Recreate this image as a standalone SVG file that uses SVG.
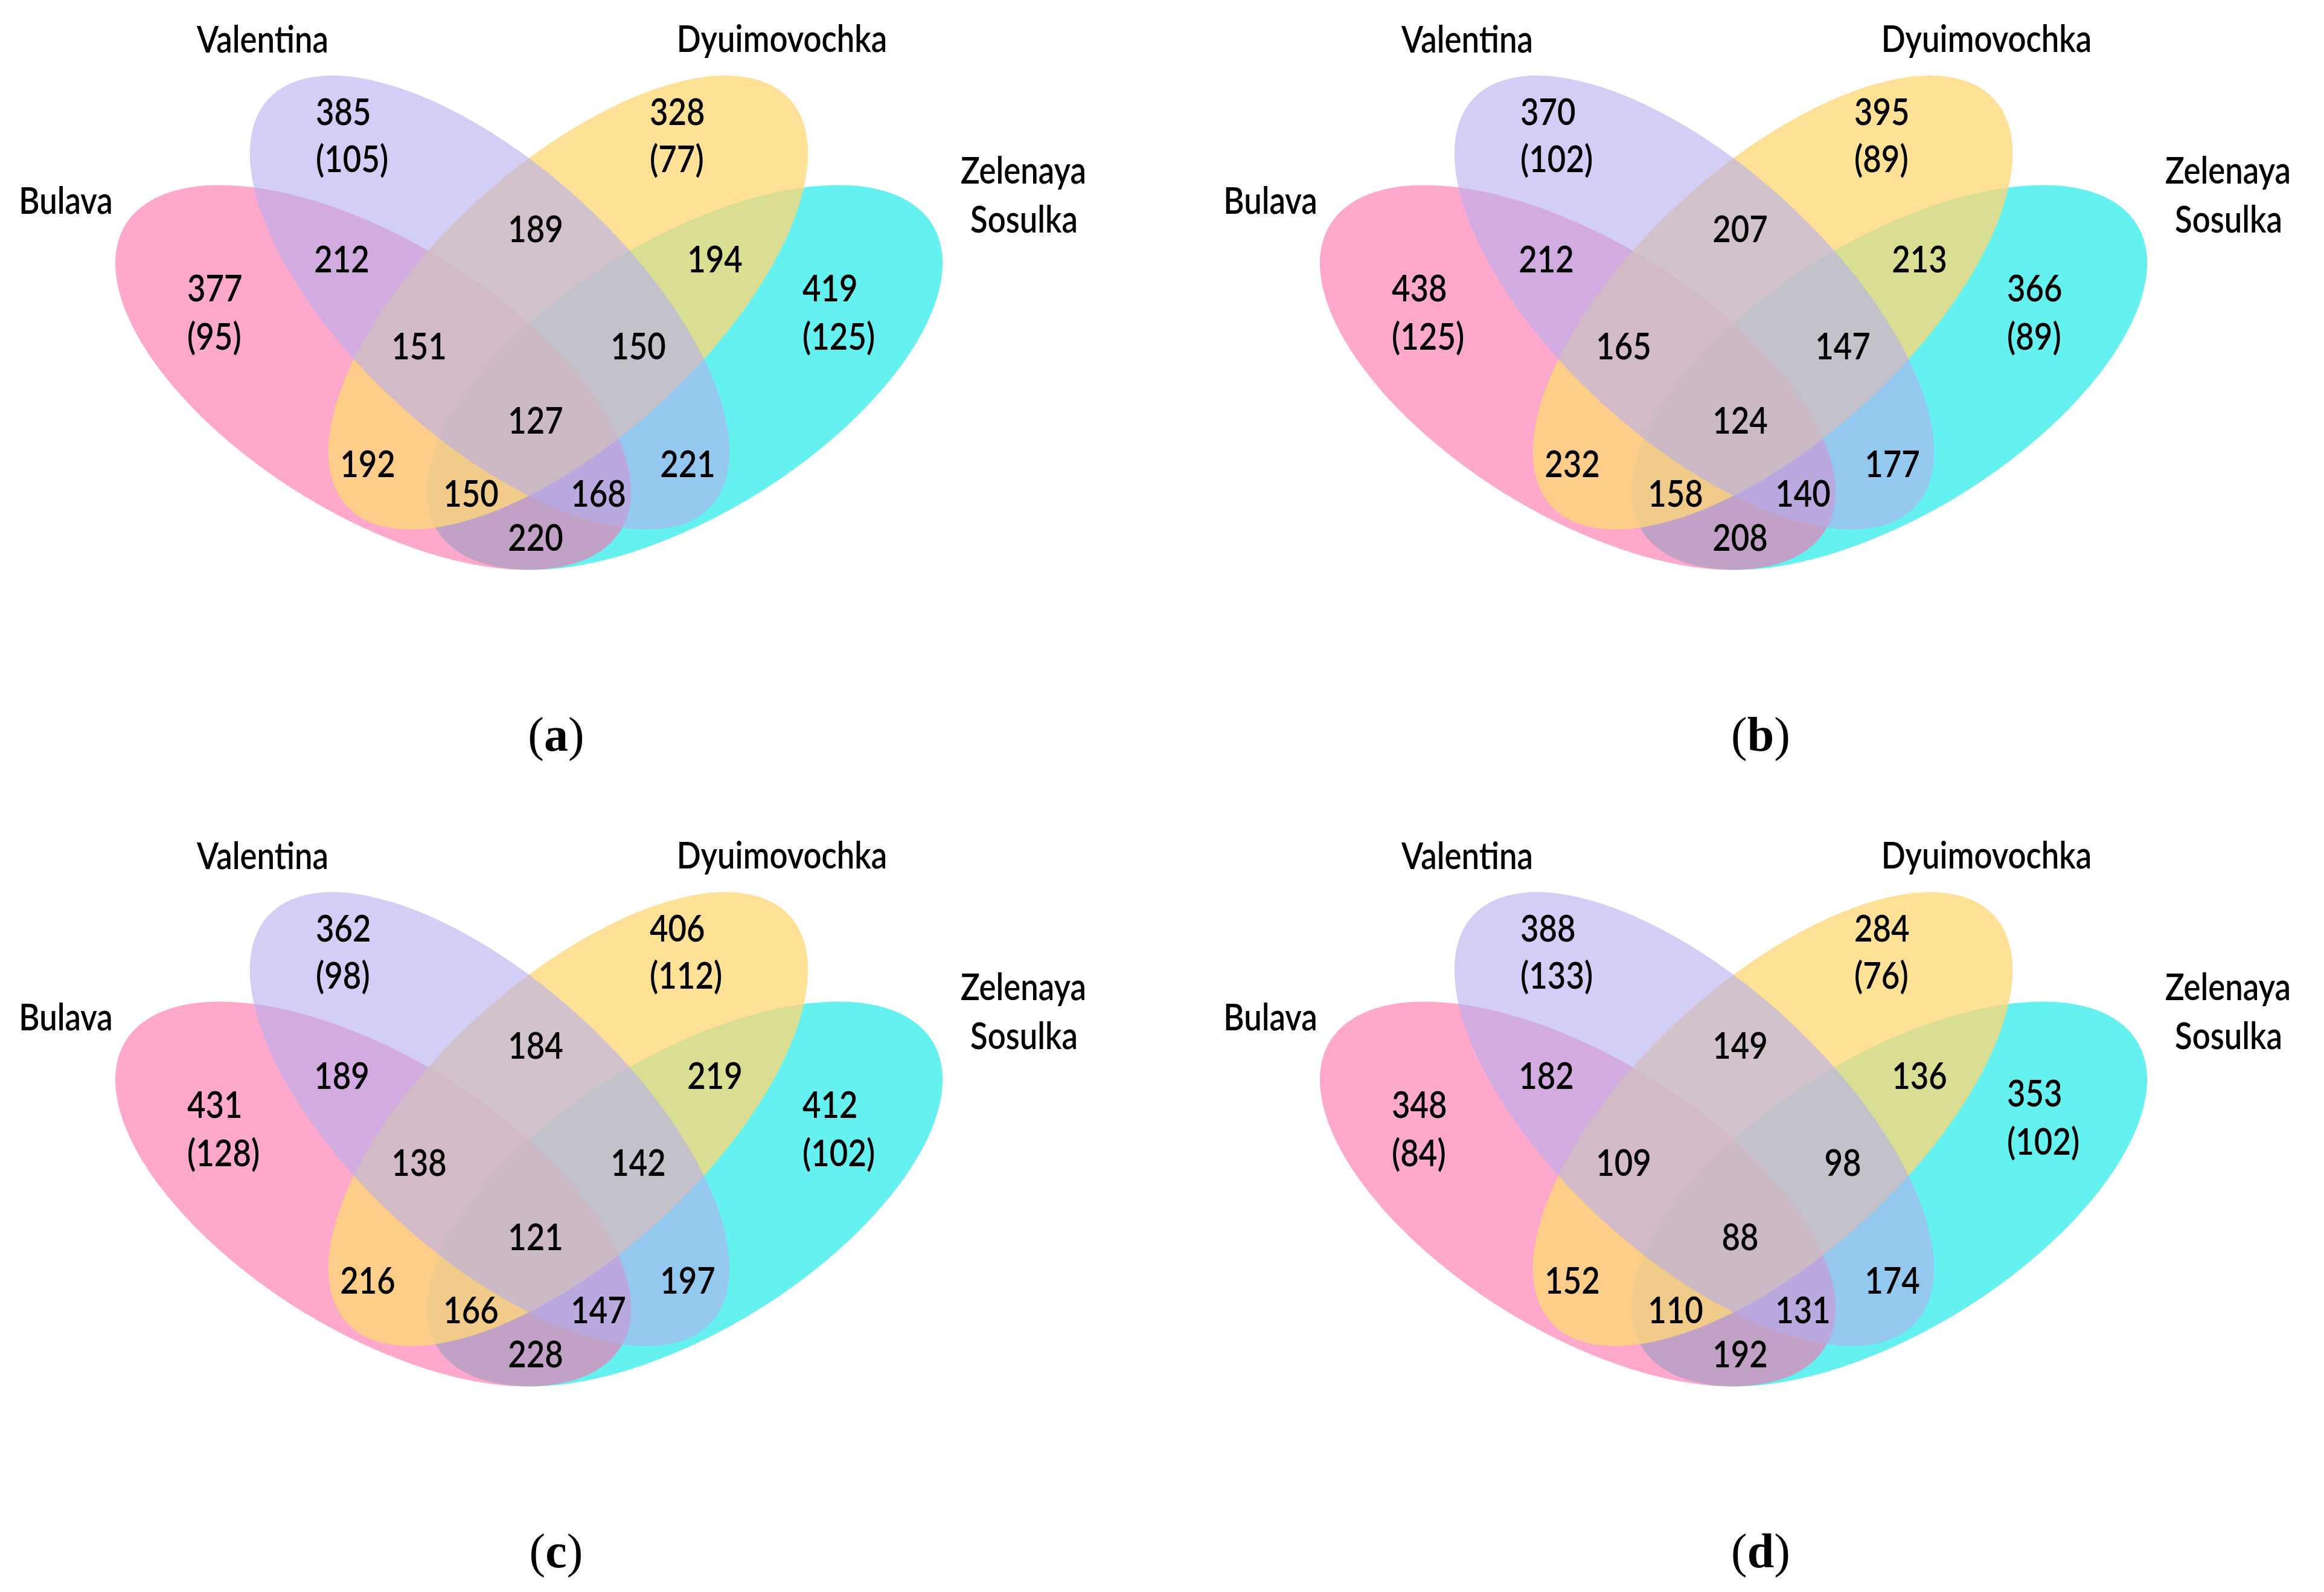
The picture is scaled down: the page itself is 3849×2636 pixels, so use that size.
<svg xmlns="http://www.w3.org/2000/svg" width="3849" height="2636" viewBox="0 0 3849 2636">
<style>
.eb{fill:#FD6EAA;fill-opacity:.6}
.ev{fill:#B4ADEE;fill-opacity:.6}
.ed{fill:#FED877;fill-opacity:.77}
.ez{fill:#00E8E8;fill-opacity:.6}
.t{font-family:Lato,"Liberation Sans",sans-serif;font-size:62px;font-weight:600;fill:#000}
.m{text-anchor:middle}
.s{text-anchor:start}
.cap{font-family:"Liberation Serif",serif;font-size:80px;text-anchor:middle;fill:#000}
</style>
<rect width="3849" height="2636" fill="#fff"/>

<!-- ===== Panel (a) ===== -->
<g id="panel-a">
  <g id="a-zelenaya"><ellipse class="ez" rx="482" ry="227" transform="translate(1134 625) rotate(-31.7)"/></g>
  <g id="a-bulava"><ellipse class="eb" rx="482" ry="227" transform="translate(618 625) rotate(31.7)"/></g>
  <g id="a-dyuimovochka"><ellipse class="ed" rx="498" ry="226" transform="translate(941 501) rotate(-42.6)"/></g>
  <g id="a-valentina"><ellipse class="ev" rx="498" ry="226" transform="translate(811 501) rotate(42.6)"/></g>
  <g id="a-labels">
    <text class="t m" transform="translate(435 87) scale(.85 1)">Valentina</text>
    <text class="t m" transform="translate(1295 86) scale(.85 1)">Dyuimovochka</text>
    <text class="t m" transform="translate(109 354) scale(.85 1)">Bulava</text>
    <text class="t m" transform="translate(1695 304) scale(.85 1)">Zelenaya</text>
    <text class="t m" transform="translate(1696 385) scale(.85 1)">Sosulka</text>
  </g>
  <g id="a-counts">
    <text class="t s" transform="translate(523 207) scale(.85 1)">385</text>
    <text class="t s" transform="translate(523 285) scale(.85 1)">(105)</text>
    <text class="t s" transform="translate(1076 207) scale(.85 1)">328</text>
    <text class="t s" transform="translate(1076 285) scale(.85 1)">(77)</text>
    <text class="t s" transform="translate(310 499) scale(.85 1)">377</text>
    <text class="t s" transform="translate(310 579) scale(.85 1)">(95)</text>
    <text class="t s" transform="translate(1329 499) scale(.85 1)">419</text>
    <text class="t s" transform="translate(1329 579) scale(.85 1)">(125)</text>
    <text class="t m" transform="translate(566 451) scale(.85 1)">212</text>
    <text class="t m" transform="translate(887 401) scale(.85 1)">189</text>
    <text class="t m" transform="translate(1184 451) scale(.85 1)">194</text>
    <text class="t m" transform="translate(694 595) scale(.85 1)">151</text>
    <text class="t m" transform="translate(1057 595) scale(.85 1)">150</text>
    <text class="t m" transform="translate(887 718) scale(.85 1)">127</text>
    <text class="t m" transform="translate(609 790) scale(.85 1)">192</text>
    <text class="t m" transform="translate(1139 790) scale(.85 1)">221</text>
    <text class="t m" transform="translate(780 839) scale(.85 1)">150</text>
    <text class="t m" transform="translate(991 839) scale(.85 1)">168</text>
    <text class="t m" transform="translate(887 912) scale(.85 1)">220</text>
  </g>
  <text class="cap" x="921" y="1243">(<tspan font-weight="bold">a</tspan>)</text>
</g>

<!-- ===== Panel (b) ===== -->
<g id="panel-b" transform="translate(1995 0)">
  <g id="b-zelenaya"><ellipse class="ez" rx="482" ry="227" transform="translate(1134 625) rotate(-31.7)"/></g>
  <g id="b-bulava"><ellipse class="eb" rx="482" ry="227" transform="translate(618 625) rotate(31.7)"/></g>
  <g id="b-dyuimovochka"><ellipse class="ed" rx="498" ry="226" transform="translate(941 501) rotate(-42.6)"/></g>
  <g id="b-valentina"><ellipse class="ev" rx="498" ry="226" transform="translate(811 501) rotate(42.6)"/></g>
  <g id="b-labels">
    <text class="t m" transform="translate(435 87) scale(.85 1)">Valentina</text>
    <text class="t m" transform="translate(1295 86) scale(.85 1)">Dyuimovochka</text>
    <text class="t m" transform="translate(109 354) scale(.85 1)">Bulava</text>
    <text class="t m" transform="translate(1695 304) scale(.85 1)">Zelenaya</text>
    <text class="t m" transform="translate(1696 385) scale(.85 1)">Sosulka</text>
  </g>
  <g id="b-counts">
    <text class="t s" transform="translate(523 207) scale(.85 1)">370</text>
    <text class="t s" transform="translate(523 285) scale(.85 1)">(102)</text>
    <text class="t s" transform="translate(1076 207) scale(.85 1)">395</text>
    <text class="t s" transform="translate(1076 285) scale(.85 1)">(89)</text>
    <text class="t s" transform="translate(310 499) scale(.85 1)">438</text>
    <text class="t s" transform="translate(310 579) scale(.85 1)">(125)</text>
    <text class="t s" transform="translate(1329 499) scale(.85 1)">366</text>
    <text class="t s" transform="translate(1329 579) scale(.85 1)">(89)</text>
    <text class="t m" transform="translate(566 451) scale(.85 1)">212</text>
    <text class="t m" transform="translate(887 401) scale(.85 1)">207</text>
    <text class="t m" transform="translate(1184 451) scale(.85 1)">213</text>
    <text class="t m" transform="translate(694 595) scale(.85 1)">165</text>
    <text class="t m" transform="translate(1057 595) scale(.85 1)">147</text>
    <text class="t m" transform="translate(887 718) scale(.85 1)">124</text>
    <text class="t m" transform="translate(609 790) scale(.85 1)">232</text>
    <text class="t m" transform="translate(1139 790) scale(.85 1)">177</text>
    <text class="t m" transform="translate(780 839) scale(.85 1)">158</text>
    <text class="t m" transform="translate(991 839) scale(.85 1)">140</text>
    <text class="t m" transform="translate(887 912) scale(.85 1)">208</text>
  </g>
  <text class="cap" x="921" y="1243">(<tspan font-weight="bold">b</tspan>)</text>
</g>

<!-- ===== Panel (c) ===== -->
<g id="panel-c" transform="translate(0 1352)">
  <g id="c-zelenaya"><ellipse class="ez" rx="482" ry="227" transform="translate(1134 625) rotate(-31.7)"/></g>
  <g id="c-bulava"><ellipse class="eb" rx="482" ry="227" transform="translate(618 625) rotate(31.7)"/></g>
  <g id="c-dyuimovochka"><ellipse class="ed" rx="498" ry="226" transform="translate(941 501) rotate(-42.6)"/></g>
  <g id="c-valentina"><ellipse class="ev" rx="498" ry="226" transform="translate(811 501) rotate(42.6)"/></g>
  <g id="c-labels">
    <text class="t m" transform="translate(435 87) scale(.85 1)">Valentina</text>
    <text class="t m" transform="translate(1295 86) scale(.85 1)">Dyuimovochka</text>
    <text class="t m" transform="translate(109 354) scale(.85 1)">Bulava</text>
    <text class="t m" transform="translate(1695 304) scale(.85 1)">Zelenaya</text>
    <text class="t m" transform="translate(1696 385) scale(.85 1)">Sosulka</text>
  </g>
  <g id="c-counts">
    <text class="t s" transform="translate(523 207) scale(.85 1)">362</text>
    <text class="t s" transform="translate(523 285) scale(.85 1)">(98)</text>
    <text class="t s" transform="translate(1076 207) scale(.85 1)">406</text>
    <text class="t s" transform="translate(1076 285) scale(.85 1)">(112)</text>
    <text class="t s" transform="translate(310 499) scale(.85 1)">431</text>
    <text class="t s" transform="translate(310 579) scale(.85 1)">(128)</text>
    <text class="t s" transform="translate(1329 499) scale(.85 1)">412</text>
    <text class="t s" transform="translate(1329 579) scale(.85 1)">(102)</text>
    <text class="t m" transform="translate(566 451) scale(.85 1)">189</text>
    <text class="t m" transform="translate(887 401) scale(.85 1)">184</text>
    <text class="t m" transform="translate(1184 451) scale(.85 1)">219</text>
    <text class="t m" transform="translate(694 595) scale(.85 1)">138</text>
    <text class="t m" transform="translate(1057 595) scale(.85 1)">142</text>
    <text class="t m" transform="translate(887 718) scale(.85 1)">121</text>
    <text class="t m" transform="translate(609 790) scale(.85 1)">216</text>
    <text class="t m" transform="translate(1139 790) scale(.85 1)">197</text>
    <text class="t m" transform="translate(780 839) scale(.85 1)">166</text>
    <text class="t m" transform="translate(991 839) scale(.85 1)">147</text>
    <text class="t m" transform="translate(887 912) scale(.85 1)">228</text>
  </g>
  <text class="cap" x="921" y="1243">(<tspan font-weight="bold">c</tspan>)</text>
</g>

<!-- ===== Panel (d) ===== -->
<g id="panel-d" transform="translate(1995 1352)">
  <g id="d-zelenaya"><ellipse class="ez" rx="482" ry="227" transform="translate(1134 625) rotate(-31.7)"/></g>
  <g id="d-bulava"><ellipse class="eb" rx="482" ry="227" transform="translate(618 625) rotate(31.7)"/></g>
  <g id="d-dyuimovochka"><ellipse class="ed" rx="498" ry="226" transform="translate(941 501) rotate(-42.6)"/></g>
  <g id="d-valentina"><ellipse class="ev" rx="498" ry="226" transform="translate(811 501) rotate(42.6)"/></g>
  <g id="d-labels">
    <text class="t m" transform="translate(435 87) scale(.85 1)">Valentina</text>
    <text class="t m" transform="translate(1295 86) scale(.85 1)">Dyuimovochka</text>
    <text class="t m" transform="translate(109 354) scale(.85 1)">Bulava</text>
    <text class="t m" transform="translate(1695 304) scale(.85 1)">Zelenaya</text>
    <text class="t m" transform="translate(1696 385) scale(.85 1)">Sosulka</text>
  </g>
  <g id="d-counts">
    <text class="t s" transform="translate(523 207) scale(.85 1)">388</text>
    <text class="t s" transform="translate(523 285) scale(.85 1)">(133)</text>
    <text class="t s" transform="translate(1076 207) scale(.85 1)">284</text>
    <text class="t s" transform="translate(1076 285) scale(.85 1)">(76)</text>
    <text class="t s" transform="translate(310 499) scale(.85 1)">348</text>
    <text class="t s" transform="translate(310 579) scale(.85 1)">(84)</text>
    <text class="t s" transform="translate(1329 480) scale(.85 1)">353</text>
    <text class="t s" transform="translate(1329 560) scale(.85 1)">(102)</text>
    <text class="t m" transform="translate(566 451) scale(.85 1)">182</text>
    <text class="t m" transform="translate(887 401) scale(.85 1)">149</text>
    <text class="t m" transform="translate(1184 451) scale(.85 1)">136</text>
    <text class="t m" transform="translate(694 595) scale(.85 1)">109</text>
    <text class="t m" transform="translate(1057 595) scale(.85 1)">98</text>
    <text class="t m" transform="translate(887 718) scale(.85 1)">88</text>
    <text class="t m" transform="translate(609 790) scale(.85 1)">152</text>
    <text class="t m" transform="translate(1139 790) scale(.85 1)">174</text>
    <text class="t m" transform="translate(780 839) scale(.85 1)">110</text>
    <text class="t m" transform="translate(991 839) scale(.85 1)">131</text>
    <text class="t m" transform="translate(887 912) scale(.85 1)">192</text>
  </g>
  <text class="cap" x="921" y="1243">(<tspan font-weight="bold">d</tspan>)</text>
</g>
</svg>
